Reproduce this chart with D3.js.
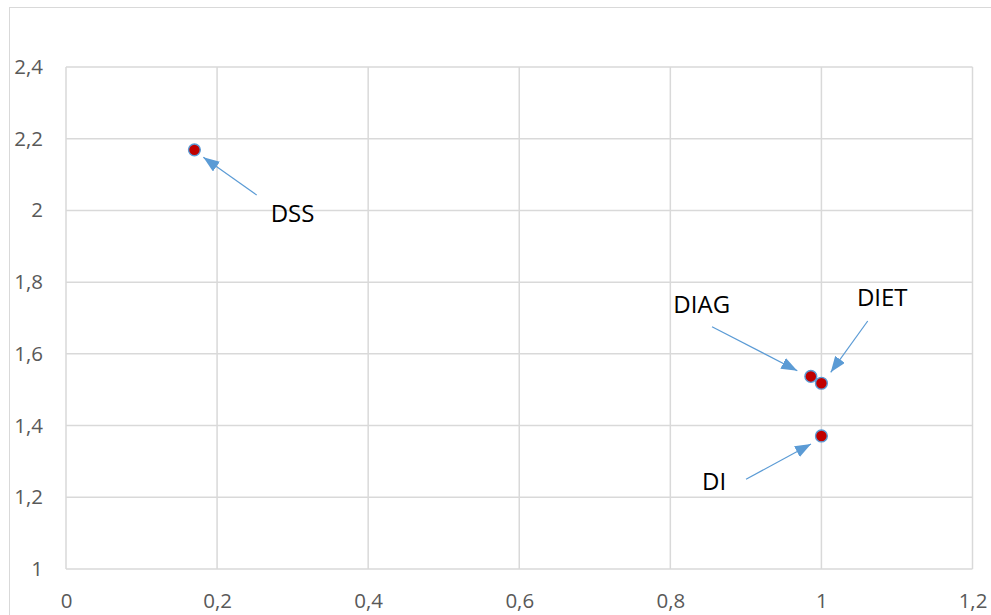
<!DOCTYPE html>
<html>
<head>
<meta charset="utf-8">
<script src="https://cdn.jsdelivr.net/npm/d3@7/dist/d3.min.js"></script>
<style>
  html, body { margin: 0; padding: 0; background: #fff; }
  svg { display: block; }
</style>
</head>
<body>
<div id="chart"></div>
<script>
// Points of the scatter
const names = ["DSS", "DIAG", "DIET", "DI"];
const xValues = [0.17, 0.986, 1.0, 1.0];
const yValues = [2.169, 1.537, 1.518, 1.371];

// Axis ticks
const xTicks = [0, 0.2, 0.4, 0.6, 0.8, 1, 1.2];
const yTicks = [1, 1.2, 1.4, 1.6, 1.8, 2, 2.2, 2.4];

// Callouts, in data units: label anchor and arrow from -> to
const calloutLabelX = [0.271, 0.804, 1.047, 0.842];
const calloutLabelY = [1.969, 1.713, 1.733, 1.220];
const arrowFromX = [0.2524, 0.8552, 1.0613, 0.9002];
const arrowFromY = [2.043, 1.6757, 1.6916, 1.2501];
const arrowToX = [0.1818, 0.9681, 1.0123, 0.9862];
const arrowToY = [2.148, 1.553, 1.5485, 1.3486];

const W = 991, H = 615;
const font = "'Open Sans', 'DejaVu Sans', sans-serif";
const fmt = v => String(v).replace(".", ",");

const svg = d3.select("#chart").append("svg")
  .attr("width", W).attr("height", H);

// Chart area frame
svg.append("rect")
  .attr("x", 9.5).attr("y", 7.5)
  .attr("width", W + 10).attr("height", H + 10)
  .attr("fill", "#fff").attr("stroke", "#D9D9D9").attr("stroke-width", 1);

const x = d3.scaleLinear().domain([0, 1.2]).range([66, 972.5]);
const y = d3.scaleLinear().domain([1, 2.4]).range([569, 67]);

// Gridlines
const grid = svg.append("g").attr("stroke", "#D9D9D9").attr("stroke-width", 1.5);
grid.selectAll("line.v").data(xTicks).join("line")
  .attr("x1", d => x(d)).attr("x2", d => x(d))
  .attr("y1", y(2.4)).attr("y2", y(1));
grid.selectAll("line.h").data(yTicks).join("line")
  .attr("x1", x(0)).attr("x2", x(1.2))
  .attr("y1", d => y(d)).attr("y2", d => y(d));

// Axis labels via d3 axes, lines hidden
const xAxis = svg.append("g")
  .attr("transform", `translate(0,${y(1)})`)
  .call(d3.axisBottom(x).tickValues(xTicks).tickFormat(fmt).tickSize(0).tickPadding(24));
const yAxis = svg.append("g")
  .attr("transform", `translate(${x(0)},0)`)
  .call(d3.axisLeft(y).tickValues(yTicks).tickFormat(fmt).tickSize(0).tickPadding(23));
[xAxis, yAxis].forEach(a => {
  a.select(".domain").remove();
  a.selectAll("text").attr("fill", "#595959")
    .style("font-family", font).style("font-size", "20.5px");
});

// Arrowhead
svg.append("defs").append("marker")
  .attr("id", "head")
  .attr("markerUnits", "userSpaceOnUse")
  .attr("viewBox", "0 0 16 12")
  .attr("refX", 16).attr("refY", 6)
  .attr("markerWidth", 16).attr("markerHeight", 12)
  .attr("orient", "auto")
  .append("path").attr("d", "M0,0 L16,6 L0,12 Z").attr("fill", "#5B9BD5");

const callouts = names.map((n, i) => ({
  name: n,
  lx: calloutLabelX[i], ly: calloutLabelY[i],
  fx: arrowFromX[i], fy: arrowFromY[i],
  tx: arrowToX[i], ty: arrowToY[i]
}));

svg.append("g").selectAll("line").data(callouts).join("line")
  .attr("x1", d => x(d.fx)).attr("y1", d => y(d.fy))
  .attr("x2", d => x(d.tx)).attr("y2", d => y(d.ty))
  .attr("stroke", "#5B9BD5").attr("stroke-width", 1.2)
  .attr("marker-end", "url(#head)");

// Points
const pts = names.map((n, i) => ({ name: n, x: xValues[i], y: yValues[i] }));
svg.append("g").selectAll("circle").data(pts).join("circle")
  .attr("cx", d => x(d.x)).attr("cy", d => y(d.y))
  .attr("r", 5.9)
  .attr("fill", "#C00000")
  .attr("stroke", "#5B9BD5").attr("stroke-width", 1.4);

// Labels
svg.append("g").selectAll("text").data(callouts).join("text")
  .attr("x", d => x(d.lx)).attr("y", d => y(d.ly))
  .attr("fill", "#000")
  .style("font-family", font).style("font-size", "24px")
  .text(d => d.name);
</script>
</body>
</html>
